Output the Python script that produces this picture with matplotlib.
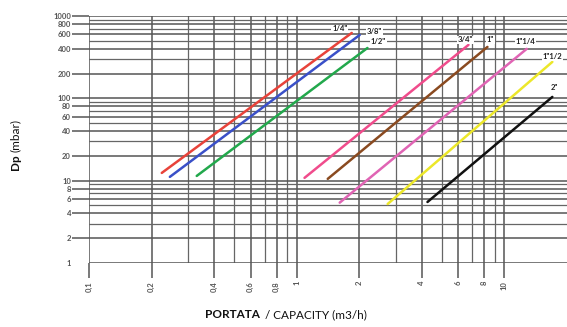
import matplotlib
matplotlib.use('Agg')
import matplotlib.pyplot as plt
from matplotlib.ticker import FixedLocator, NullFormatter

# pipe sizes and the two end points of every straight line (log-log)
sizes = ['1/4"', '3/8"', '1/2"', '3/4"', '1"', '1"1/4', '1"1/2', '2"']
flow_start = [0.224, 0.245, 0.33, 1.09, 1.41, 1.61, 2.74, 4.26]
flow_end = [1.84, 2.01, 2.19, 6.71, 8.28, 12.8, 17.0, 17.0]
dp_start = [12.4, 11.1, 11.4, 10.8, 10.5, 5.4, 5.2, 5.5]
dp_end = [623, 589, 409, 446, 421, 399, 277, 104]
colors = ['#e8433a', '#3a50c8', '#22a84c', '#f04c8c', '#8a4a20',
          '#e064b4', '#ece72a', '#111111']
label_offsets = [(-12, 4), (15, 3), (11, 6), (-3, 5), (3, 7),
                 (-1, 7), (0, 5), (2, 9)]

x_ticks = [0.1, 0.2, 0.4, 0.6, 0.8, 1, 2, 4, 6, 8, 10]
x_ticklabels = ['0,1', '0,2', '0,4', '0,6', '0,8', '1', '2', '4', '6', '8', '10']
x_minor = [0.3, 0.5, 0.7, 0.9, 3, 5, 7, 9]
y_ticks = [1, 2, 4, 6, 8, 10, 20, 40, 60, 80, 100, 200, 400, 600, 800, 1000]
y_minor = [3, 5, 7, 9, 30, 50, 70, 90, 300, 500, 700, 900]

plt.rcParams['font.family'] = ['Lato', 'DejaVu Sans']

fig = plt.figure(figsize=(5.67, 3.27), dpi=100)
ax = fig.add_axes([0.157, 0.196, 0.843, 0.755])
ax.set_xscale('log')
ax.set_yscale('log')
ax.set_xlim(0.1, 20)
ax.set_ylim(1, 1000)

for s in ax.spines.values():
    s.set_visible(False)

ax.xaxis.set_major_locator(FixedLocator(x_ticks))
ax.xaxis.set_minor_locator(FixedLocator(x_minor))
ax.set_xticklabels(x_ticklabels, rotation=90, fontsize=5.5, color='#555555',
                   fontweight='bold')
ax.xaxis.set_minor_formatter(NullFormatter())
ax.yaxis.set_major_locator(FixedLocator(y_ticks))
ax.yaxis.set_minor_locator(FixedLocator(y_minor))
ax.set_yticklabels([str(v) for v in y_ticks], fontsize=5.5, color='#555555',
                   fontweight='bold')
ax.yaxis.set_minor_formatter(NullFormatter())

ax.tick_params(axis='x', which='major', length=11, width=1.1, color='#555555', pad=2)
ax.tick_params(axis='y', which='major', length=12, width=1.1, color='#555555', pad=1)
ax.tick_params(which='minor', length=0)
ax.yaxis.get_major_ticks()[0].tick1line.set_visible(False)

ax.grid(which='major', color='#555555', linewidth=1.1)
ax.grid(which='minor', color='#666666', linewidth=0.9)
ax.set_axisbelow(True)

for i in range(len(sizes)):
    ax.plot([flow_start[i], flow_end[i]], [dp_start[i], dp_end[i]],
            color=colors[i], linewidth=1.8, solid_capstyle='round', zorder=3)
    ax.annotate(sizes[i], (flow_end[i], dp_end[i]), xytext=label_offsets[i],
                textcoords='offset pixels', ha='center', va='center',
                fontsize=5.5, fontweight='bold', color='#222222', zorder=4,
                bbox=dict(boxstyle='square,pad=0.1', fc='white', ec='none'))

# axis titles: bold first word, regular rest
fig.canvas.draw()
t = fig.text(0.362, 0.02, 'PORTATA', fontsize=8.5, fontweight='bold',
             color='#111111', ha='left', va='bottom')
fig.canvas.draw()
bb = t.get_window_extent()
fig.text(bb.x1 / fig.bbox.width + 0.008, 0.02, '/ CAPACITY (m3/h)', fontsize=8.5,
         color='#111111', ha='left', va='bottom')

ty = fig.text(0.018, 0.48, 'Dp', fontsize=8.5, fontweight='bold', rotation=90,
              color='#111111', ha='left', va='bottom')
fig.canvas.draw()
bby = ty.get_window_extent()
fig.text(0.018, bby.y1 / fig.bbox.height + 0.008, '(mbar)', fontsize=8.5,
         rotation=90, color='#111111', ha='left', va='bottom')

fig.savefig('out.png', dpi=100)
